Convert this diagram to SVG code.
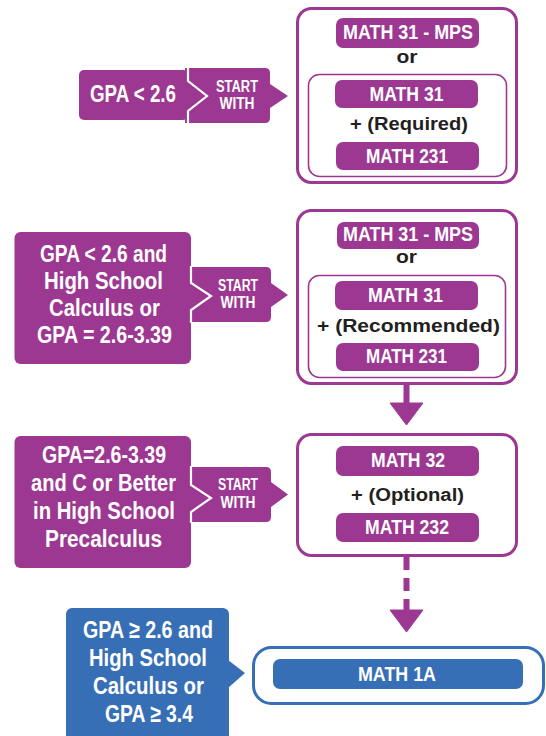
<svg xmlns="http://www.w3.org/2000/svg" width="546" height="736" viewBox="0 0 546 736">
<style>
.p{fill:#9c3891}
.b{fill:#376fb6}
.ob{fill:#fff;stroke:#9c3891;stroke-width:3}
.ib{fill:none;stroke:#9c3891;stroke-width:1.6}
.obb{fill:#fff;stroke:#376fb6;stroke-width:3}
.cut{fill:none;stroke:#fff;stroke-width:2.2;stroke-linejoin:miter}
text{font-family:"Liberation Sans Narrow","Liberation Sans",Arial,sans-serif;font-weight:bold;text-anchor:middle}
.w{fill:#fff}
.lt{font-size:24.5px}
.tt{font-size:16px}
.pt{font-size:20.5px}
.dk{fill:#231f20;font-family:"Liberation Sans",Arial,sans-serif;font-size:18px}
.ar{fill:#9c3891}
.dash{stroke:#9c3891;stroke-width:6;stroke-dasharray:13 8;fill:none}
</style>

<g id="cond1">
<path class="p" d="M185 68 H265 Q270 68 270 73 V84 L288 96 L270 108 V118 Q270 123 265 123 H185 Z"/>
<rect class="p" x="79" y="70" width="109" height="50" rx="5"/>
<polyline class="cut" points="188,67 188,81 207,96 188,111 188,124"/>
<text class="w" x="133" y="102" font-size="23" textLength="86" lengthAdjust="spacingAndGlyphs">GPA &lt; 2.6</text>
<text class="w tt" x="237" y="92" textLength="42" lengthAdjust="spacingAndGlyphs">START</text>
<text class="w tt" x="237" y="109" textLength="35" lengthAdjust="spacingAndGlyphs">WITH</text>
</g>

<g id="block1">
<rect class="ob" x="297.5" y="8.5" width="219" height="174" rx="14"/>
<rect class="p" x="336" y="18" width="143" height="30" rx="7"/>
<text class="w pt" x="408" y="39" textLength="130" lengthAdjust="spacingAndGlyphs">MATH 31 - MPS</text>
<text class="dk" x="407" y="63" font-size="19" textLength="21" lengthAdjust="spacingAndGlyphs">or</text>
<rect class="ib" x="308.5" y="74.5" width="198" height="102" rx="11"/>
<rect class="p" x="335" y="80" width="143" height="28" rx="7"/>
<text class="w pt" x="406.5" y="100.5" textLength="74" lengthAdjust="spacingAndGlyphs">MATH 31</text>
<text class="dk" x="409" y="130" textLength="118" lengthAdjust="spacingAndGlyphs">+ (Required)</text>
<rect class="p" x="336" y="142" width="143" height="28" rx="7"/>
<text class="w pt" x="407" y="162.5" textLength="82" lengthAdjust="spacingAndGlyphs">MATH 231</text>
</g>

<g id="cond2">
<path class="p" d="M186 267 H266 Q271 267 271 272 V283 L288 295 L271 307 V317 Q271 322 266 322 H186 Z"/>
<rect class="p" x="14.5" y="232" width="176.5" height="132" rx="6"/>
<polyline class="cut" points="191,266 191,283 211,296 191,310 191,323"/>
<text class="w lt" x="103.5" y="262" textLength="127" lengthAdjust="spacingAndGlyphs">GPA &lt; 2.6 and</text>
<text class="w lt" x="103.5" y="289" textLength="119" lengthAdjust="spacingAndGlyphs">High School</text>
<text class="w lt" x="104.5" y="316" textLength="111" lengthAdjust="spacingAndGlyphs">Calculus or</text>
<text class="w lt" x="104.5" y="343" textLength="135" lengthAdjust="spacingAndGlyphs">GPA = 2.6-3.39</text>
<text class="w tt" x="238" y="291" textLength="40" lengthAdjust="spacingAndGlyphs">START</text>
<text class="w tt" x="238" y="308" textLength="35" lengthAdjust="spacingAndGlyphs">WITH</text>
</g>

<g id="block2">
<rect class="ob" x="297.5" y="210.5" width="219" height="173" rx="14"/>
<rect class="p" x="337" y="222" width="142" height="27" rx="7"/>
<text class="w pt" x="408" y="240.5" textLength="130" lengthAdjust="spacingAndGlyphs">MATH 31 - MPS</text>
<text class="dk" x="406.5" y="263" font-size="19" textLength="21" lengthAdjust="spacingAndGlyphs">or</text>
<rect class="ib" x="308.5" y="275.5" width="197" height="102" rx="11"/>
<rect class="p" x="335" y="281" width="143" height="29" rx="7"/>
<text class="w pt" x="405.5" y="301.5" textLength="75" lengthAdjust="spacingAndGlyphs">MATH 31</text>
<text class="dk" x="408.5" y="332" textLength="183" lengthAdjust="spacingAndGlyphs">+ (Recommended)</text>
<rect class="p" x="336" y="343" width="143" height="28" rx="7"/>
<text class="w pt" x="406.5" y="362.5" textLength="81" lengthAdjust="spacingAndGlyphs">MATH 231</text>
</g>

<g id="cond3">
<path class="p" d="M186 467 H266 Q271 467 271 472 V482 L288 494.5 L271 507 V517 Q271 522 266 522 H186 Z"/>
<rect class="p" x="14.5" y="436" width="176.5" height="132" rx="6"/>
<polyline class="cut" points="191,466 191,485 211,498 191,512 191,523"/>
<text class="w lt" x="104" y="463" textLength="124" lengthAdjust="spacingAndGlyphs">GPA=2.6-3.39</text>
<text class="w lt" x="103.5" y="491" textLength="145" lengthAdjust="spacingAndGlyphs">and C or Better</text>
<text class="w lt" x="104" y="519" textLength="142" lengthAdjust="spacingAndGlyphs">in High School</text>
<text class="w lt" x="103.5" y="547" textLength="117" lengthAdjust="spacingAndGlyphs">Precalculus</text>
<text class="w tt" x="238" y="490" textLength="40" lengthAdjust="spacingAndGlyphs">START</text>
<text class="w tt" x="238" y="508" textLength="35" lengthAdjust="spacingAndGlyphs">WITH</text>
</g>

<g id="block3">
<rect class="ob" x="297.5" y="434.5" width="219" height="121" rx="14"/>
<rect class="p" x="336" y="446" width="143" height="30" rx="7"/>
<text class="w pt" x="408" y="467" textLength="74" lengthAdjust="spacingAndGlyphs">MATH 32</text>
<text class="dk" x="407.5" y="501" textLength="113" lengthAdjust="spacingAndGlyphs">+ (Optional)</text>
<rect class="p" x="336" y="513" width="143" height="29" rx="7"/>
<text class="w pt" x="407" y="533.5" textLength="84" lengthAdjust="spacingAndGlyphs">MATH 232</text>
</g>

<g id="cond4">
<rect class="b" x="66" y="608" width="163" height="140" rx="6"/>
<path class="b" d="M228 660 L245 673 L228 688 Z"/>
<text class="w lt" x="148" y="638" textLength="130" lengthAdjust="spacingAndGlyphs">GPA ≥ 2.6 and</text>
<text class="w lt" x="148" y="666" textLength="118" lengthAdjust="spacingAndGlyphs">High School</text>
<text class="w lt" x="148.5" y="694" textLength="111" lengthAdjust="spacingAndGlyphs">Calculus or</text>
<text class="w lt" x="149" y="722" textLength="88" lengthAdjust="spacingAndGlyphs">GPA ≥ 3.4</text>
</g>

<g id="block4">
<rect class="obb" x="253.5" y="647.5" width="290" height="56" rx="18"/>
<rect class="b" x="273" y="659" width="250" height="30" rx="7"/>
<text class="w pt" x="397" y="680.5" textLength="78" lengthAdjust="spacingAndGlyphs">MATH 1A</text>
</g>

<g id="connectors">
<rect class="ar" x="403.5" y="384" width="6" height="20"/>
<path class="ar" d="M390 403 H423 L406.5 425 Z" stroke="#9c3891" stroke-width="1" stroke-linejoin="round"/>
<line class="dash" x1="406.5" y1="557" x2="406.5" y2="611"/>
<path class="ar" d="M390 610 H423 L406.5 632 Z" stroke="#9c3891" stroke-width="1" stroke-linejoin="round"/>
</g>
</svg>
